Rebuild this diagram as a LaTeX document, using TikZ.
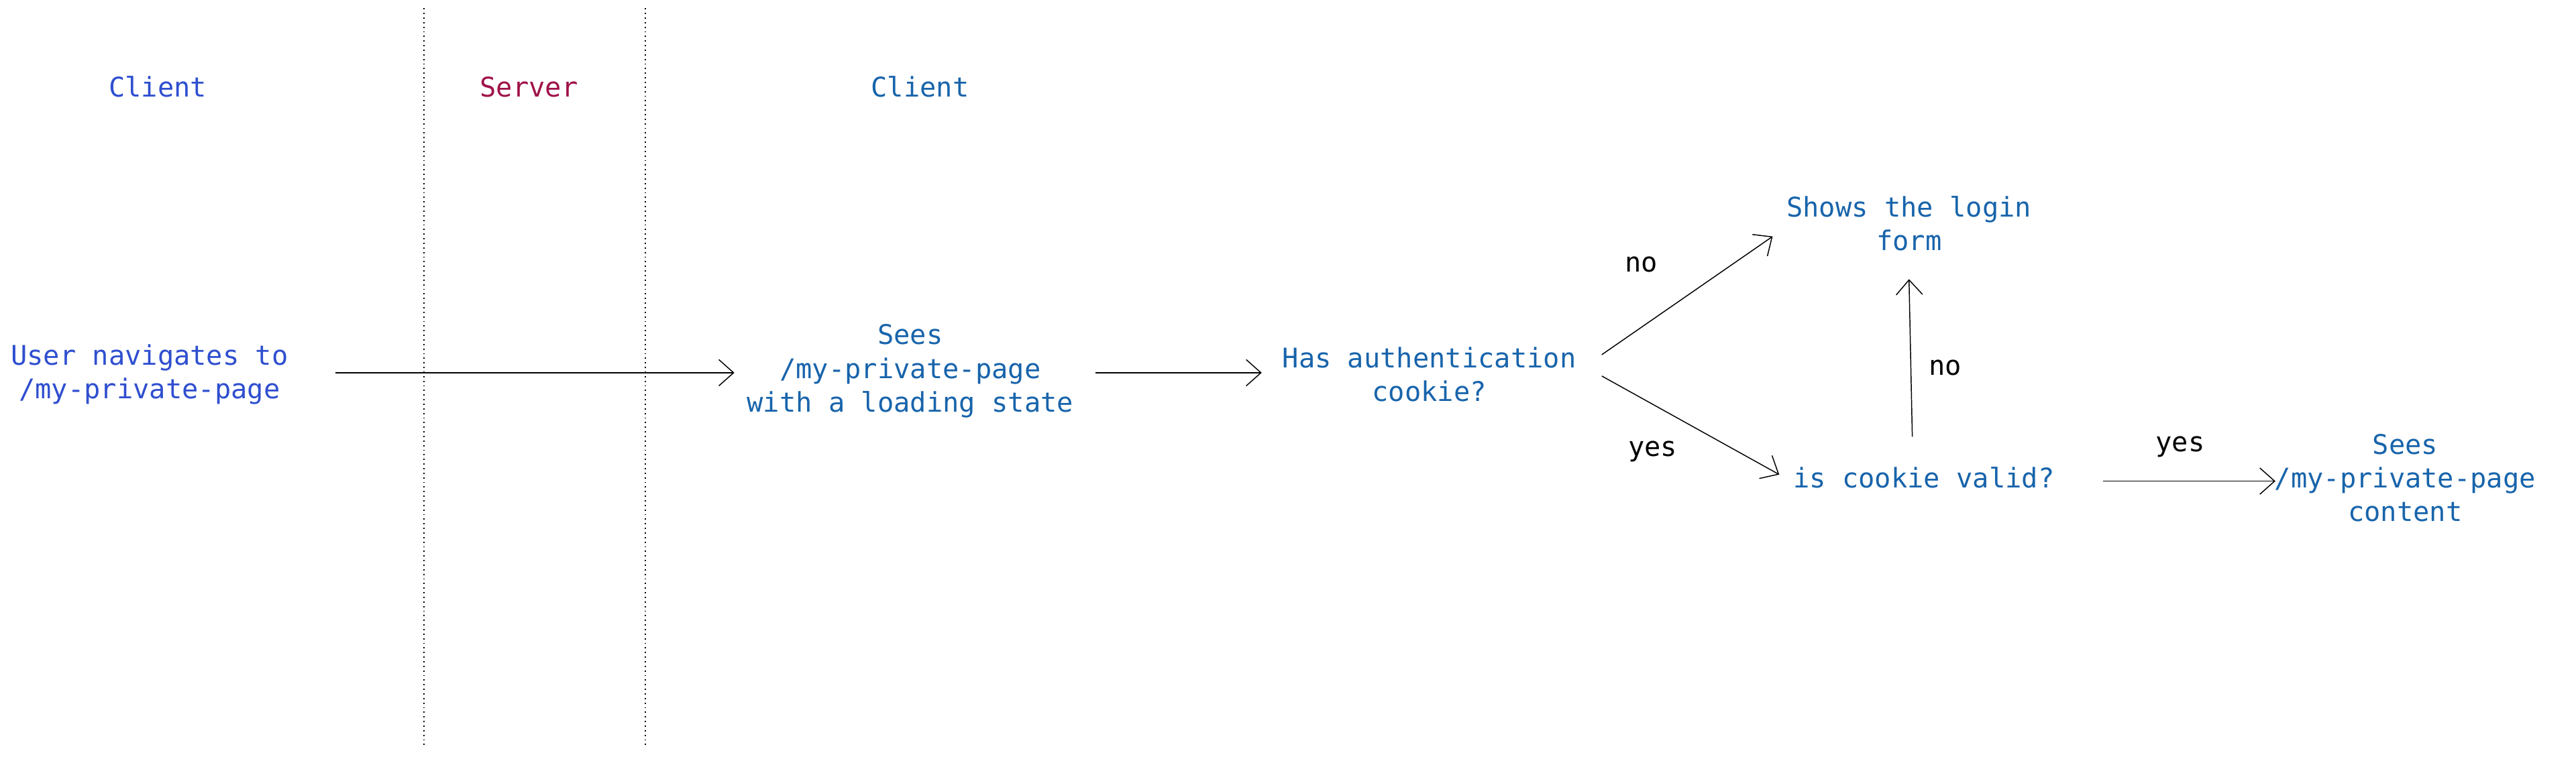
\documentclass[tikz,border=0pt]{standalone}
\usepackage{fontspec}
\setmonofont{DejaVu Sans Mono}
\usetikzlibrary{arrows.meta}
\definecolor{cli}{HTML}{2F4FCF}
\definecolor{srv}{HTML}{A0124A}
\definecolor{txt}{HTML}{1864AB}
\begin{document}
\begin{tikzpicture}[x=1pt,y=-1pt,
  every node/.style={font=\fontsize{16.5}{20.5}\selectfont\ttfamily, align=center, inner sep=0pt},
  t/.style={text=txt},
  lab/.style={text=black},
  arr/.style={-{Straight Barb[length=9pt,width=16pt]}, line width=0.6pt},
  sep/.style={dotted, line width=0.8pt}]
\useasboundingbox (0,0) rectangle (1568,462);
\node[text=cli] (h1) at (96,53) {Client};
\node[text=srv] (h2) at (322,53) {Server};
\node[t] (h3) at (560,53) {Client};
\coordinate (d1t) at (258,5); \coordinate (d1b) at (258,455);
\coordinate (d2t) at (393,5); \coordinate (d2b) at (393,455);
\draw[sep] (d1t) -- (d1b);
\draw[sep] (d2t) -- (d2b);
\node[text=cli] (user) at (91,228) {User navigates to\\/my-private-page};
\node[t] (sees1) at (554,226) {Sees\\/my-private-page\\with a loading state};
\node[t] (has) at (870,228) {Has authentication\\cookie?};
\node[t] (login) at (1162,136) {Shows the login\\form};
\node[t] (valid) at (1171,291) {is cookie valid?};
\node[t] (sees2) at (1464,291) {Sees\\/my-private-page\\content};
\coordinate (a1s) at (204,227); \coordinate (a1e) at (447,227);
\coordinate (a2s) at (667,227); \coordinate (a2e) at (768,227);
\coordinate (a3s) at (975,216); \coordinate (a3e) at (1079,144);
\coordinate (a4s) at (975,229); \coordinate (a4e) at (1083,289);
\coordinate (a5s) at (1164,266); \coordinate (a5e) at (1162,170);
\coordinate (a6s) at (1280,293); \coordinate (a6e) at (1385,293);
\draw[arr] (a1s) -- (a1e);
\draw[arr] (a2s) -- (a2e);
\draw[arr] (a3s) -- (a3e);
\draw[arr] (a4s) -- (a4e);
\draw[arr] (a5s) -- (a5e);
\draw[arr] (a6s) -- (a6e);
\node[lab] (l1) at (999,161) {no};
\node[lab] (l2) at (1006,275) {yes};
\node[lab] (l3) at (1184,224) {no};
\node[lab] (l4) at (1327,272) {yes};
\end{tikzpicture}
\end{document}
